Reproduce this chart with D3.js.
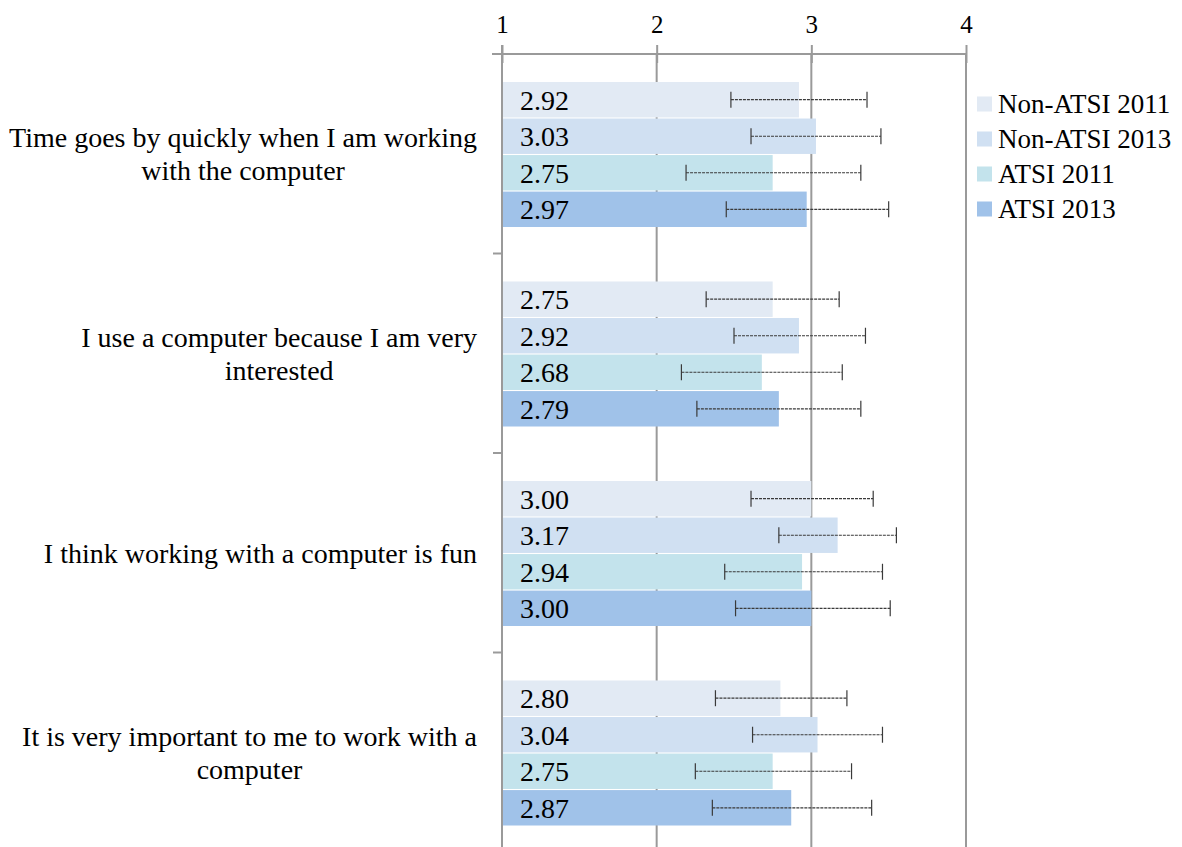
<!DOCTYPE html>
<html><head><meta charset="utf-8">
<script src="https://cdn.jsdelivr.net/npm/d3@7"></script>
<style>body{margin:0;background:#fff}svg{display:block}text{font-family:"Liberation Serif","DejaVu Serif",serif;fill:#000}</style>
</head><body><svg id="c" width="1182" height="847"></svg>
<script>
const categories = [
  ["Time goes by quickly when I am working", "with the computer"],
  ["I use a computer because I am very", "interested"],
  ["I think working with a computer is fun"],
  ["It is very important to me to work with a", "computer"]
];
const seriesNames = ["Non-ATSI 2011", "Non-ATSI 2013", "ATSI 2011", "ATSI 2013"];
const colors = ["#e2eaf4", "#d0e0f2", "#c3e3ec", "#a0c2e9"];
const values = [
  [2.92, 3.03, 2.75, 2.97],
  [2.75, 2.92, 2.68, 2.79],
  [3.00, 3.17, 2.94, 3.00],
  [2.80, 3.04, 2.75, 2.87]
];
const errLow = [
  [2.48, 2.61, 2.19, 2.45],
  [2.32, 2.50, 2.16, 2.26],
  [2.61, 2.79, 2.44, 2.51],
  [2.38, 2.62, 2.25, 2.36]
];
const errHigh = [
  [3.36, 3.45, 3.32, 3.50],
  [3.18, 3.35, 3.20, 3.32],
  [3.40, 3.55, 3.46, 3.51],
  [3.23, 3.46, 3.26, 3.39]
];
const tickValues = [1, 2, 3, 4];

(function(){
const svg = d3.select("#c");
const L = 502, R = 966, T = 54, bandH = 199.5;
const FS = 28;
const x = d3.scaleLinear().domain([1, 4]).range([L, R]);
const y = d3.scaleBand().domain(d3.range(categories.length)).range([T, T + bandH * 4]).paddingInner(0).paddingOuter(0);
const inner = d3.scaleBand().domain(d3.range(seriesNames.length)).range([28, 173]).paddingOuter(0).paddingInner(0.03);

// gridlines
svg.append("g").selectAll("line").data(tickValues.slice(1)).join("line")
  .attr("x1", d => x(d)).attr("x2", d => x(d)).attr("y1", T).attr("y2", 847)
  .attr("stroke", "#9a9a9a").attr("stroke-width", 2);

// top axis
const ax = svg.append("g").attr("transform", `translate(0,${T})`)
  .call(d3.axisTop(x).tickValues(tickValues).tickFormat(d3.format("d")).tickSize(9).tickSizeOuter(0).tickPadding(12));
ax.select(".domain").attr("stroke", "#9a9a9a").attr("stroke-width", 2).attr("d", `M${L - 10},0H${R}`);
ax.selectAll(".tick line").attr("stroke", "#9a9a9a").attr("stroke-width", 2).attr("y2", 9).attr("y1", -9);
ax.selectAll(".tick text").style("font-family", '"Liberation Serif",serif').attr("font-size", 25).attr("fill", "#000");

// bars
const groups = svg.append("g").selectAll("g").data(values).join("g")
  .attr("transform", (d, i) => `translate(0,${y(i)})`);
groups.selectAll("rect").data(d => d).join("rect")
  .attr("x", x(1)).attr("y", (d, j) => inner(j))
  .attr("width", d => x(d) - x(1)).attr("height", inner.bandwidth())
  .attr("fill", (d, j) => colors[j]);
groups.selectAll("text.v").data(d => d).join("text").attr("class", "v")
  .attr("x", x(1) + 18).attr("y", (d, j) => inner(j) + inner.bandwidth() / 2)
  .attr("dy", "0.35em").attr("font-size", FS).text(d => d3.format(".2f")(d));

// error bars
groups.each(function(d, i) {
  const g = d3.select(this);
  d.forEach((v, j) => {
    const cy = inner(j) + inner.bandwidth() / 2;
    g.append("line").attr("x1", x(errLow[i][j])).attr("x2", x(errHigh[i][j])).attr("y1", cy).attr("y2", cy)
      .attr("stroke", "#3a3a3a").attr("stroke-width", 1.2).attr("stroke-dasharray", "3,1");
    [errLow[i][j], errHigh[i][j]].forEach(e => {
      g.append("line").attr("x1", x(e)).attr("x2", x(e)).attr("y1", cy - 8).attr("y2", cy + 8)
        .attr("stroke", "#3a3a3a").attr("stroke-width", 1.2);
    });
  });
});

// left axis
const ly = d3.scaleLinear().domain([0, 4]).range([T, T + bandH * 4]);
svg.append("line").attr("x1", L).attr("x2", L).attr("y1", T - 9).attr("y2", 847)
  .attr("stroke", "#9a9a9a").attr("stroke-width", 2);
svg.append("g").selectAll("line").data([1, 2, 3]).join("line")
  .attr("x1", L - 9).attr("x2", L).attr("y1", d => ly(d)).attr("y2", d => ly(d))
  .attr("stroke", "#9a9a9a").attr("stroke-width", 2);

// category labels
const catG = svg.append("g");
categories.forEach((lines, i) => {
  const cy = y(i) + y.bandwidth() / 2;
  const lh = 33;
  const t = catG.append("text").attr("font-size", FS).attr("text-anchor", "middle");
  lines.forEach((ln, k) => {
    t.append("tspan").attr("x", 0).attr("y", cy + (k - (lines.length - 1) / 2) * lh).attr("dy", "0.35em").text(ln);
  });
  const w = d3.max(t.selectAll("tspan").nodes(), n => n.getComputedTextLength());
  t.selectAll("tspan").attr("x", 477 - w / 2);
});

// legend
const leg = svg.append("g").attr("transform", "translate(977,104)");
const li = leg.selectAll("g").data(seriesNames).join("g").attr("transform", (d, i) => `translate(0,${i * 35})`);
li.append("rect").attr("x", 0).attr("y", -7.5).attr("width", 15).attr("height", 15).attr("fill", (d, i) => colors[i]);
li.append("text").attr("x", 21).attr("dy", "0.35em").attr("font-size", 27).text(d => d);
})();
</script></body></html>
